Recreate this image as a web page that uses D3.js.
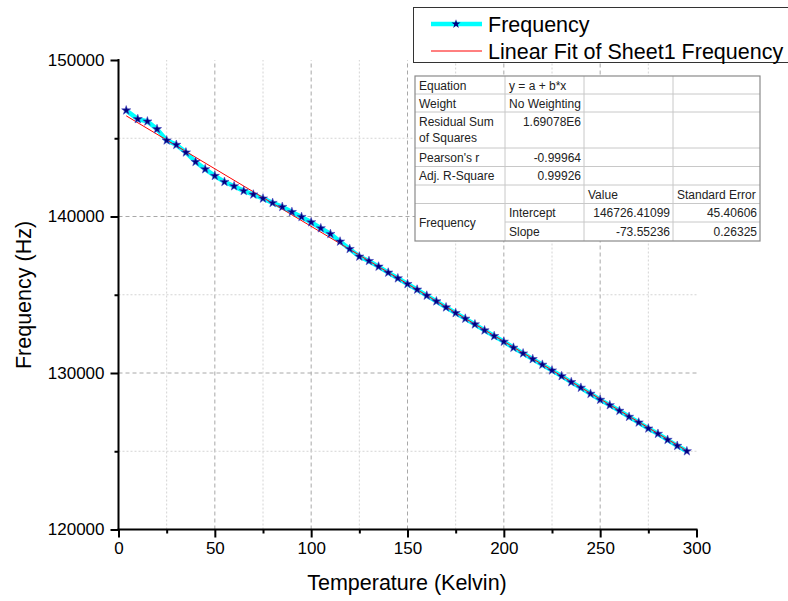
<!DOCTYPE html>
<html>
<head>
<meta charset="utf-8">
<script src="https://cdn.jsdelivr.net/npm/d3@7"></script>
<style>
  body { margin: 0; background: #fff; }
  svg text { font-family: "Liberation Sans", Arial, sans-serif; }
</style>
</head>
<body>
<div id="myGraph"></div>
<script>
// measured values
var temperature = [4, 10, 15, 20, 25, 30, 35, 40, 45, 50, 55, 60, 65, 70, 75, 80, 85, 90, 95, 100,
  105, 110, 115, 120, 125, 130, 135, 140, 145, 150, 155, 160, 165, 170, 175, 180, 185, 190, 195, 200,
  205, 210, 215, 220, 225, 230, 235, 240, 245, 250, 255, 260, 265, 270, 275, 280, 285, 290, 295];
var frequency = [146782, 146225, 146078, 145585, 144862, 144581, 144095, 143493, 143026, 142597,
  142213, 141938, 141638, 141407, 141151, 140870, 140614, 140290, 139974, 139635,
  139251, 138886, 138400, 137927, 137441, 137159, 136801, 136417, 136052, 135688,
  135330, 134946, 134581, 134197, 133833, 133474, 133109, 132725, 132361, 132002,
  131618, 131254, 130889, 130531, 130166, 129801, 129418, 129059, 128675, 128291,
  127946, 127588, 127204, 126839, 126455, 126116, 125732, 125348, 125002];
var fitParams = [146726.41099, -73.55236]; // intercept, slope
var xTicks = [0, 50, 100, 150, 200, 250, 300];
var xMinor = [25, 75, 125, 175, 225, 275];
var yTicks = [120000, 130000, 140000, 150000];
var yMinor = [125000, 135000, 145000];
var legendLabels = ["Frequency", "Linear Fit of Sheet1 Frequency"];
var tableRows = [
  ["Equation", "y = a + b*x", "", ""],
  ["Weight", "No Weighting", "", ""],
  ["Residual Sum|of Squares", "1.69078E6", "", ""],
  ["Pearson's r", "-0.99964", "", ""],
  ["Adj. R-Square", "0.99926", "", ""],
  ["", "", "Value", "Standard Error"],
  ["Frequency", "Intercept", "146726.41099", "45.40606"],
  ["", "Slope", "-73.55236", "0.26325"]
];

var w = 788, h = 601;
var vis = d3.select("#myGraph").append("svg").attr("width", w).attr("height", h);

var x = d3.scaleLinear().domain([0, 300]).range([118.5, 696.5]);
var y = d3.scaleLinear().domain([120000, 150000]).range([529.5, 60]);

// grid
var grid = vis.append("g");
grid.selectAll(".vmin").data(xMinor).enter().append("line")
  .attr("x1", d => x(d)).attr("x2", d => x(d)).attr("y1", y(120000)).attr("y2", y(150000))
  .style("stroke", "#d4d4d4").style("stroke-dasharray", "2,2");
grid.selectAll(".vmaj").data(xTicks.filter(d => d > 0 && d < 300)).enter().append("line")
  .attr("x1", d => x(d)).attr("x2", d => x(d)).attr("y1", y(120000)).attr("y2", y(150000))
  .style("stroke", "#a8a8a8").style("stroke-dasharray", "4,3");
grid.selectAll(".hmin").data(yMinor).enter().append("line")
  .attr("x1", x(0)).attr("x2", x(300)).attr("y1", d => y(d)).attr("y2", d => y(d))
  .style("stroke", "#d4d4d4").style("stroke-dasharray", "2,2");
grid.selectAll(".hmaj").data([130000, 140000]).enter().append("line")
  .attr("x1", x(0)).attr("x2", x(300)).attr("y1", d => y(d)).attr("y2", d => y(d))
  .style("stroke", "#a8a8a8").style("stroke-dasharray", "4,3");

// axes
var xAxis = vis.append("g").attr("transform", "translate(0," + y(120000) + ")")
  .call(d3.axisBottom(x).tickValues(xTicks).tickSize(8).tickPadding(4).tickFormat(d3.format("d")));
vis.append("g").attr("transform", "translate(0," + y(120000) + ")")
  .call(d3.axisBottom(x).tickValues(xMinor).tickSize(4).tickFormat(""))
  .select(".domain").remove();
var yAxis = vis.append("g").attr("transform", "translate(" + x(0) + ",0)")
  .call(d3.axisLeft(y).tickValues(yTicks).tickSize(8).tickPadding(6).tickFormat(d3.format("d")));
vis.append("g").attr("transform", "translate(" + x(0) + ",0)")
  .call(d3.axisLeft(y).tickValues(yMinor).tickSize(4).tickFormat(""))
  .select(".domain").remove();
xAxis.select(".domain").attr("d", "M" + (x(0) - 1) + ",0H" + (x(300) + 1));
yAxis.select(".domain").attr("d", "M0," + (y(120000) + 1) + "V" + (y(150000) - 1));
vis.selectAll(".domain").style("stroke", "#000").style("stroke-width", 2);
vis.selectAll(".tick line").style("stroke", "#000").style("stroke-width", 2);
vis.selectAll(".tick text").style("font-size", "17px").style("fill", "#000")
  .style("font-family", "Liberation Sans, Arial, sans-serif");

// axis titles
vis.append("text").text("Temperature (Kelvin)").attr("x", 407).attr("y", 590)
  .attr("text-anchor", "middle").style("font-size", "21.5px").style("fill", "#000");
vis.append("text").text("Frequency (Hz)").attr("transform", "translate(31,295) rotate(-90)")
  .attr("text-anchor", "middle").style("font-size", "21.5px").style("fill", "#000");

// data line
var line = d3.line().x((d, i) => x(temperature[i])).y(d => y(d));
vis.append("path").datum(frequency).attr("d", line)
  .style("fill", "none").style("stroke", "#00ffff").style("stroke-width", 4.5);
// fit line
var t0 = temperature[0], t1 = temperature[temperature.length - 1];
vis.append("line")
  .attr("x1", x(t0)).attr("y1", y(fitParams[0] + fitParams[1] * t0))
  .attr("x2", x(t1)).attr("y2", y(fitParams[0] + fitParams[1] * t1))
  .style("stroke", "#ff0000").style("stroke-width", 1);
// stars
var star = d3.symbol().type(d3.symbolStar).size(26);
vis.selectAll(".pt").data(frequency).enter().append("path")
  .attr("d", star).attr("transform", (d, i) => "translate(" + x(temperature[i]) + "," + y(d) + ")")
  .style("fill", "#000080").style("stroke", "#4a4ac0").style("stroke-width", 0.6);

// legend
var lg = vis.append("g");
lg.append("rect").attr("x", 413.5).attr("y", 7.5).attr("width", 390).attr("height", 55)
  .style("fill", "#fff").style("stroke", "#333").style("stroke-width", 1);
lg.append("line").attr("x1", 431).attr("x2", 482).attr("y1", 24).attr("y2", 24)
  .style("stroke", "#00ffff").style("stroke-width", 4.5);
lg.append("path").attr("d", star).attr("transform", "translate(456,24)")
  .style("fill", "#000080");
lg.append("line").attr("x1", 431).attr("x2", 482).attr("y1", 51).attr("y2", 51)
  .style("stroke", "#ff0000").style("stroke-width", 1);
lg.selectAll(".lt").data(legendLabels).enter().append("text").text(d => d)
  .attr("x", 488).attr("y", (d, i) => 32 + i * 26.5)
  .style("font-size", "21.5px").style("fill", "#000");

// fit table
var colX = [415, 505, 584, 673, 760];
var rowY = [76, 94, 112, 148, 166.5, 185, 203.5, 222, 241];
var tb = vis.append("g");
tb.append("rect").attr("x", colX[0]).attr("y", rowY[0]).attr("width", colX[4] - colX[0])
  .attr("height", rowY[8] - rowY[0]).style("fill", "#fff");
rowY.slice(1, 8).forEach(function(ry, i) {
  var start = (i === 6) ? colX[1] : colX[0];
  tb.append("line").attr("x1", start).attr("x2", colX[4]).attr("y1", ry).attr("y2", ry)
    .style("stroke", "#c8c8c8");
});
colX.slice(1, 4).forEach(function(cx) {
  tb.append("line").attr("x1", cx).attr("x2", cx).attr("y1", rowY[0]).attr("y2", rowY[8])
    .style("stroke", "#c8c8c8");
});
tb.append("rect").attr("x", colX[0]).attr("y", rowY[0]).attr("width", colX[4] - colX[0])
  .attr("height", rowY[8] - rowY[0]).style("fill", "none").style("stroke", "#8a8a8a").style("stroke-width", 1.2);

var numRe = /^-?[\d.]+(E\d+)?$/;
tableRows.forEach(function(row, r) {
  row.forEach(function(cell, c) {
    if (!cell) return;
    var top = rowY[r], bot = rowY[r + 1];
    var cy = (top + bot) / 2 + 4.5;
    if (c === 0 && r === 6) cy = rowY[7] + 4.5;
    var lines = cell.split("|");
    var isNum = numRe.test(cell);
    var tx = isNum ? colX[c + 1] - 3 : colX[c] + 4;
    lines.forEach(function(ln, k) {
      var ty = lines.length > 1 ? top + 13.5 + k * 16 : cy;
      if (r === 2 && c === 1) ty = top + 13.5;
      tb.append("text").text(ln).attr("x", tx).attr("y", ty)
        .attr("text-anchor", isNum ? "end" : "start")
        .style("font-size", "12px").style("fill", "#222");
    });
  });
});
</script>
</body>
</html>
